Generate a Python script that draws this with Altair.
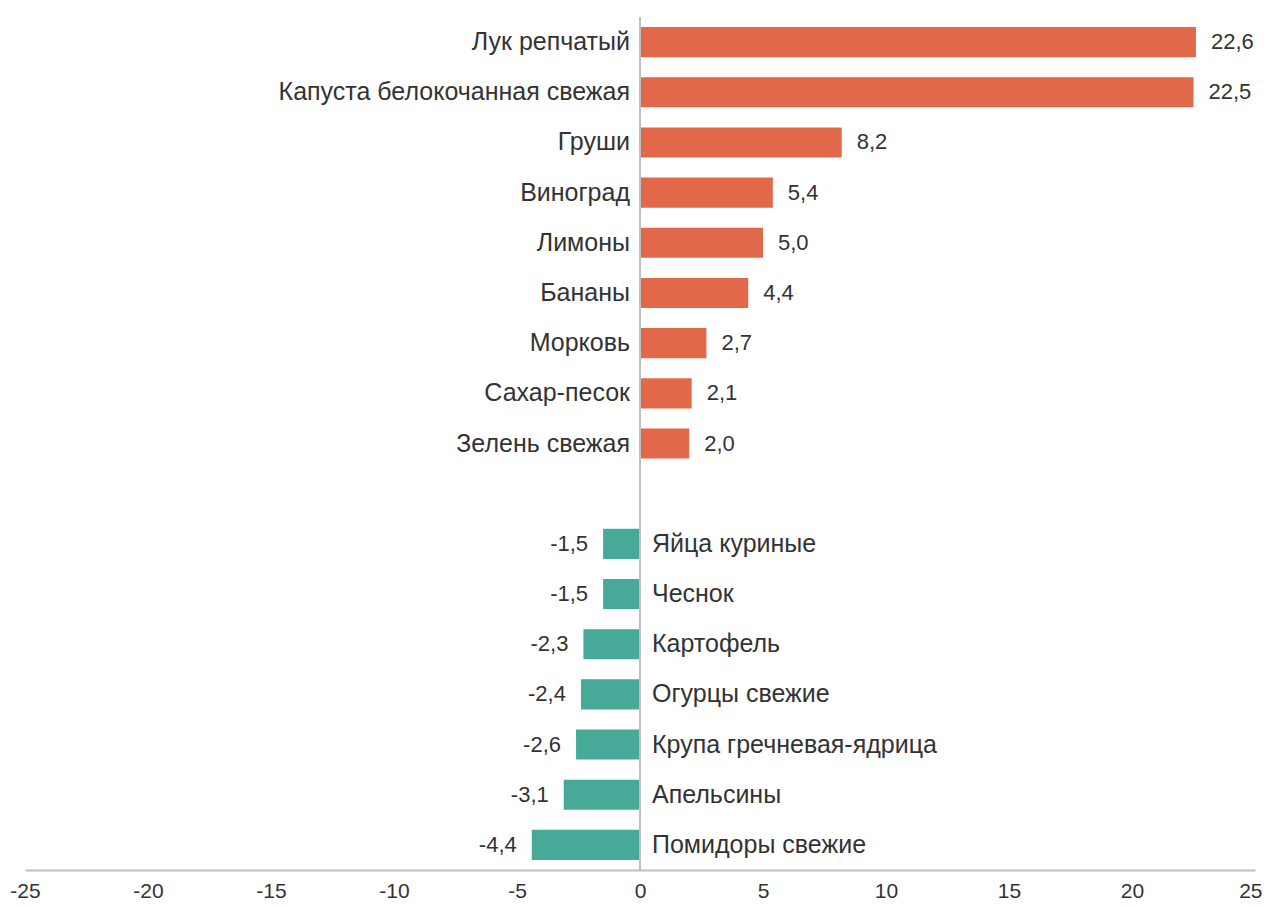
import altair as alt
import pandas as pd

categories = [
    "Лук репчатый", "Капуста белокочанная свежая", "Груши", "Виноград", "Лимоны",
    "Бананы", "Морковь", "Сахар-песок", "Зелень свежая",
    "Яйца куриные", "Чеснок", "Картофель", "Огурцы свежие",
    "Крупа гречневая-ядрица", "Апельсины", "Помидоры свежие",
]
values = [22.6, 22.5, 8.2, 5.4, 5.0, 4.4, 2.7, 2.1, 2.0,
          -1.5, -1.5, -2.3, -2.4, -2.6, -3.1, -4.4]
tick_values = [-25, -20, -15, -10, -5, 0, 5, 10, 15, 20, 25]

gap = " "
order = categories[:9] + [gap] + categories[9:]

df = pd.DataFrame({"cat": categories, "value": values})
df["label"] = [f"{v:.1f}".replace(".", ",") for v in values]

FONT = "Liberation Sans"
ORANGE = "#E2684A"
TEAL = "#47AA98"
TXT = "#333333"

y_enc = alt.Y("cat:N", scale=alt.Scale(domain=order, paddingInner=0.4, paddingOuter=0.2), axis=None)
x_scale = alt.Scale(domain=[-25, 25], nice=False)

base = alt.Chart(df)

bars = base.mark_bar().encode(
    x=alt.X("value:Q", scale=x_scale,
            axis=alt.Axis(values=tick_values, grid=False, ticks=False, domainColor="#BFBFBF",
                          domainWidth=2, labelFont=FONT, labelFontSize=21, labelColor=TXT,
                          labelPadding=10, labelFlush=False, title=None,
                          labelAlign={"condition": {"test": "datum.value == 25", "value": "right"}, "value": "center"},
                          labelOffset={"condition": {"test": "datum.value == 25", "value": 7}, "value": 0},
                          labelExpr="toString(datum.value)")),
    y=y_enc,
    color=alt.condition("datum.value >= 0", alt.value(ORANGE), alt.value(TEAL)),
)

zero = alt.Chart(pd.DataFrame({"z": [0]})).mark_rule(color="#BFBFBF", strokeWidth=2).encode(
    x=alt.X("z:Q", scale=x_scale)
)

pos = base.transform_filter("datum.value >= 0")
neg = base.transform_filter("datum.value < 0")

val_txt = dict(font=FONT, fontSize=22, color=TXT, baseline="middle")
cat_txt = dict(font=FONT, fontSize=25, color=TXT, baseline="middle")

pos_val = pos.mark_text(align="left", dx=15, **val_txt).encode(x=alt.X("value:Q", scale=x_scale), y=y_enc, text="label:N")
pos_cat = pos.mark_text(align="right", dx=-10, **cat_txt).encode(x=alt.datum(0, scale=x_scale), y=y_enc, text="cat:N")
neg_val = neg.mark_text(align="right", dx=-15, **val_txt).encode(x=alt.X("value:Q", scale=x_scale), y=y_enc, text="label:N")
neg_cat = neg.mark_text(align="left", dx=12, **cat_txt).encode(x=alt.datum(0, scale=x_scale), y=y_enc, text="cat:N")

chart = alt.layer(bars, zero, pos_val, pos_cat, neg_val, neg_cat).properties(
    width=1230, height=853,
    autosize=alt.AutoSizeParams(type="none"),
    padding={"left": 17, "top": 9, "right": 7, "bottom": 30},
).configure_view(stroke=None)

chart.save("out.html", embed_options={"renderer": "svg", "actions": False})
